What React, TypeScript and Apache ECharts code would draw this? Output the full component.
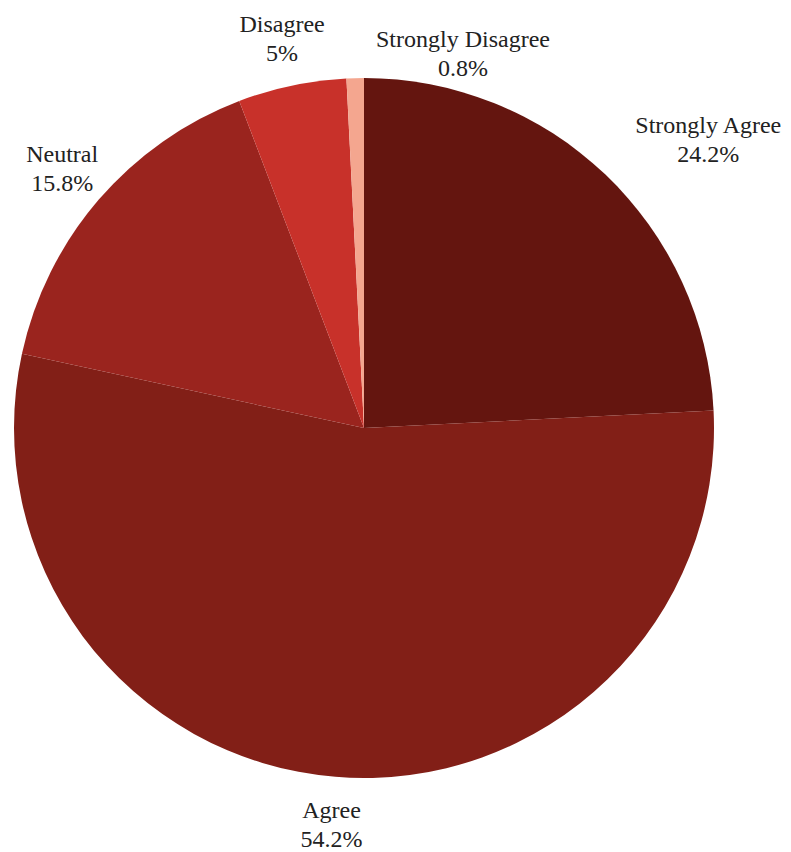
import React, { useEffect, useRef } from "react";
import * as echarts from "echarts";

const categories = ["Strongly Agree", "Agree", "Neutral", "Disagree", "Strongly Disagree"];
const values = [24.2, 54.2, 15.8, 5, 0.8];
const colors = ["#64150f", "#821f17", "#9a241e", "#c8312a", "#f4a68f"];

const CX = 364;
const CY = 428;
const R = 350;
const LABEL_R = 398;

export default function App() {
  const ref = useRef<HTMLDivElement>(null);
  useEffect(() => {
    if (!ref.current) return;
    const chart = echarts.init(ref.current, null, { renderer: "svg" });
    const total = values.reduce((a, b) => a + b, 0);
    const mids: number[] = [];
    let acc = 0;
    values.forEach((v) => {
      mids.push(((acc + v / 2) / total) * Math.PI * 2);
      acc += v;
    });
    // small nudges to mimic the reference's label collision handling
    const nudge: Record<number, [number, number]> = {
      0: [70, 0],
      4: [109, 23],
    };
    chart.setOption({
      animation: false,
      backgroundColor: "#ffffff",
      series: [
        {
          type: "pie",
          center: [CX, CY],
          radius: [0, R],
          startAngle: 90,
          clockwise: true,
          avoidLabelOverlap: false,
          data: categories.map((c, i) => ({
            name: c,
            value: values[i],
            itemStyle: { color: colors[i] },
          })),
          label: {
            show: true,
            position: "outside",
            formatter: (p: any) => `${p.name}\n${p.value}%`,
            fontFamily: "Liberation Serif",
            fontSize: 24,
            lineHeight: 29,
            color: "#222222",
            align: "center",
          },
          labelLine: { show: false, length: 30, length2: 0 },
          labelLayout: (p: any) => {
            const a = mids[p.dataIndex];
            const n = nudge[p.dataIndex] || [0, 0];
            return {
              x: CX + LABEL_R * Math.sin(a) + n[0],
              y: CY - LABEL_R * Math.cos(a) + n[1],
              align: "center",
              verticalAlign: "middle",
            };
          },
          emphasis: { disabled: true },
        },
      ],
    });
    return () => chart.dispose();
  }, []);
  return (
    <div
      ref={ref}
      style={{ position: "fixed", left: 0, top: 0, width: 791, height: 852, background: "#fff" }}
    />
  );
}
